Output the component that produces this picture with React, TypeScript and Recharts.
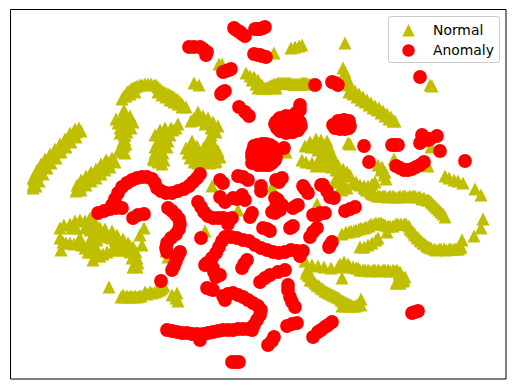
import React from 'react';
import { ScatterChart, Scatter, XAxis, YAxis, ReferenceArea, Legend } from 'recharts';

type Pt = [number, number];

// axis units run the same way as the picture (y grows downwards), there are no ticks to read
const xDomain: [number, number] = [10.5, 506];
const yDomain: [number, number] = [9.5, 379];

const normalTopArc: Pt[] = [[124,96],[127,92],[131,89],[135,87],[140,85],[145,84],[151,84],[156,85],[160,89],[164,92],[168,94],[172,96],[176,99],[180,102],[183,106],[186,107],[129,91],[133,88],[137,86],[142,85],[148,84],[154,85],[158,87],[162,91],[166,93],[170,95],[174,97],[178,100],[182,104],[122,99],[126,96],[130,94],[135,92],[158,92],[162,95],[166,97],[170,100],[174,102],[178,104],[182,107]];
const normalTopBits: Pt[] = [[194,83],[199,85],[219,64],[222,64],[274,53],[291,48],[295,47],[299,46],[302,45],[345,43],[430,85],[432,86]];
const normalTopBand: Pt[] = [[246,73],[250,76],[254,77],[258,80],[262,85],[258,88],[262,88],[266,88],[270,86],[274,84],[278,83],[282,83],[286,83],[290,83],[294,84],[298,84],[302,83],[306,83],[310,84],[252,80],[256,84],[260,87],[264,88],[268,87],[272,88],[276,88],[272,85],[276,84],[280,83],[284,83],[288,83],[292,84],[296,84],[300,84],[304,83],[308,84]];
const normalSlant: Pt[] = [[343,68],[345,72],[346,76],[348,80],[349,85],[349,92],[351,88],[353,94],[355,91],[357,97],[359,94],[361,100],[363,97],[365,102],[367,100],[369,105],[371,103],[373,108],[375,106],[377,110],[379,108],[381,113],[383,111],[385,116],[387,114],[389,119],[391,117],[393,121],[395,121]];
const normalCentreRight: Pt[] = [[348,143],[350,144],[305,146],[310,142],[316,139],[321,140],[327,141],[329,147],[331,152],[333,157],[335,162],[318,150],[322,146],[302,160],[306,162],[312,163],[316,166],[320,164],[338,165],[343,169],[347,172],[340,175],[335,180],[340,188],[347,188],[342,190],[311,147],[315,147],[320,157],[325,152],[326,158],[330,162],[326,166],[331,167],[336,170],[345,176],[350,175],[338,182],[343,184],[352,184],[356,182]];
const normalMidBand: Pt[] = [[378,165],[381,170],[384,175],[386,179],[360,185],[364,186],[368,186],[372,184],[375,182],[367,190],[371,193],[375,195],[380,196],[385,196],[390,196],[395,197],[400,196],[405,196],[410,196],[415,196],[420,197],[424,198],[429,200],[433,204],[437,208],[441,212],[445,217],[378,196],[383,196],[388,197],[393,196],[398,197],[403,196],[408,197],[413,196],[418,197],[370,191],[373,194],[366,189],[422,199],[427,200],[431,202],[435,206],[439,210],[443,214],[364,188],[382,167],[385,172]];
const normalLowBand: Pt[] = [[342,234],[346,232],[351,231],[356,230],[361,228],[366,227],[371,224],[376,223],[381,223],[385,225],[390,226],[387,232],[396,224],[401,224],[406,224],[409,226],[412,231],[415,235],[418,238],[421,241],[425,244],[429,247],[434,249],[439,249],[444,249],[449,249],[454,249],[458,249],[461,247],[462,240],[349,232],[354,231],[359,229],[364,228],[369,226],[374,224],[379,223],[383,224],[388,226],[393,226],[398,224],[404,224],[410,229],[414,233],[417,237],[420,240],[423,243],[427,246],[431,248],[436,250],[441,249],[446,250],[451,249],[456,249],[460,248]];
const normalLowInner: Pt[] = [[360,247],[364,247],[368,245],[372,243],[376,240],[378,238]];
const normalRightEdge: Pt[] = [[445,176],[449,178],[454,180],[458,181],[463,183],[475,189],[481,195],[483,219],[481,228],[474,236]];
const normalBehindRed: Pt[] = [[394,159],[396,164],[420,163],[424,165],[428,166],[431,147],[272,187],[238,210],[317,204],[212,186],[205,231],[286,152]];
const normalBottomBand: Pt[] = [[305,261],[312,265],[318,266],[324,267],[331,268],[342,278],[340,264],[344,262],[348,264],[353,267],[358,268],[363,270],[368,270],[373,270],[378,270],[383,270],[388,270],[393,270],[397,270],[400,272],[402,276],[404,280],[396,283],[400,283],[403,281],[405,277],[350,267],[356,268],[360,270],[365,270],[370,271],[375,270],[380,271],[385,270],[390,271],[395,271],[399,274],[401,279],[398,283],[344,265],[338,267]];
const normalBottomSlant: Pt[] = [[307,270],[308,275],[311,279],[315,283],[319,286],[323,289],[327,292],[331,294],[335,296],[339,298],[343,301],[347,303],[351,305],[355,306],[342,306],[346,306],[350,306],[361,299],[361,305],[309,272],[310,276],[313,281],[317,285],[321,288],[325,291],[329,293],[333,295],[337,297],[341,300],[345,302],[349,304],[353,306],[357,305],[310,280],[306,273]];
const normalLeftBandA: Pt[] = [[79,128],[76,132],[72,136],[68,140],[64,144],[60,148],[56,152],[52,156],[48,160],[44,165],[40,170],[37,175],[34,180],[33,185],[33,188],[81,131],[76,137],[71,142],[66,147],[61,152],[56,158],[51,163],[47,168],[43,174],[39,181],[36,186],[75,129],[70,133],[65,139],[60,144],[55,149],[50,154],[45,159],[41,164],[37,170],[33,178]];
const normalLeftBandB: Pt[] = [[112,158],[108,162],[104,165],[100,169],[96,173],[92,176],[88,180],[84,183],[80,187],[76,191],[115,162],[110,167],[105,170],[101,174],[96,178],[91,181],[86,185],[81,190],[106,160],[101,164],[96,169],[91,172],[86,176],[81,180],[77,185]];
const normalUpperLeft: Pt[] = [[124,110],[116,119],[130,116],[133,122],[128,125],[122,125],[124,130],[120,128],[124,135],[125,140],[124,146],[122,152],[118,123],[126,116],[122,117],[128,120],[131,128],[127,132],[121,122],[126,144],[122,146],[125,135],[120,133],[123,141],[119,150],[125,153]];
const normalUpperMid: Pt[] = [[155,135],[160,130],[165,128],[171,128],[178,124],[165,135],[168,141],[158,141],[155,147],[155,153],[153,159],[158,162],[162,164],[164,160],[160,137],[163,141],[170,135],[173,130],[176,128],[158,150],[160,148],[155,160],[163,153],[167,147]];
const normalUpperRight: Pt[] = [[191,121],[198,112],[203,116],[208,118],[213,122],[218,126],[198,120],[205,124],[211,128],[211,135],[212,142],[213,150],[214,156],[216,161],[220,157],[215,162],[210,163],[205,162],[192,141],[186,148],[191,148],[197,146],[199,152],[195,155],[190,158],[194,162],[198,163],[202,160],[194,118],[214,126],[216,132],[209,139],[215,147],[207,150],[203,155],[209,157],[218,151],[188,153],[192,152],[196,160],[200,157],[204,147],[216,157]];
const normalLowerLeft: Pt[] = [[60,228],[64,225],[70,224],[75,221],[80,220],[85,221],[90,218],[95,222],[100,228],[105,229],[112,231],[117,235],[123,239],[128,243],[60,238],[63,242],[61,250],[78,242],[80,238],[90,230],[93,235],[90,240],[95,245],[98,252],[100,256],[95,256],[92,250],[85,248],[115,245],[120,245],[125,245],[130,246],[133,247],[136,252],[137,258],[135,263],[133,267],[137,267],[140,235],[144,228],[142,245],[166,251],[168,257],[72,228],[85,228],[95,232],[100,235],[105,236],[97,240],[112,238],[118,240],[124,243],[130,252],[132,258],[138,263],[90,225],[88,252],[93,260],[66,243],[70,243],[74,244],[82,245],[87,247],[90,252],[103,254],[107,252],[112,250],[118,250],[124,250],[128,250],[115,240],[121,247],[108,237],[104,232],[97,236],[93,228],[76,228]];
const normalBottomLeft: Pt[] = [[109,287],[121,297],[125,297],[129,297],[133,297],[137,297],[141,296],[145,292],[150,292],[155,292],[160,290],[164,286],[172,295],[177,293],[176,298],[178,301],[123,295],[127,296],[131,296],[135,296],[139,296],[147,294],[152,293],[157,291],[162,288]];

const anomalyTop: Pt[] = [[234,28],[238,31],[242,34],[245,36],[235,29],[240,32],[255,29],[257,29],[260,29],[263,28],[265,27],[189,47],[194,47],[200,47],[203,49],[207,52],[206,55],[254,54],[258,55],[260,55],[262,56],[266,57],[223,72],[226,71],[229,70],[231,69],[221,94],[222,93],[223,92],[225,91],[239,107],[245,112],[249,116],[315,85],[332,82],[335,83],[338,85],[420,77]];
const anomalyBigBlob: Pt[] = [[276,122],[280,118],[286,116],[292,116],[297,118],[300,124],[298,130],[292,132],[286,133],[280,131],[277,127],[288,124],[284,122],[292,123],[300,105],[300,110],[296,113],[275,124],[279,119],[285,117],[291,117],[296,118],[300,122],[301,126],[298,130],[293,132],[287,132],[281,131],[277,128],[295,125],[282,127],[290,128]];
const anomalyMidBlob: Pt[] = [[254,146],[262,144],[270,145],[275,150],[276,157],[272,163],[266,165],[258,165],[253,160],[252,153],[260,152],[266,154],[252,163],[284,148],[257,145],[266,144],[273,147],[276,153],[275,160],[269,165],[262,165],[256,163],[252,157],[253,150],[264,160],[270,155],[258,158],[262,148],[270,150]];
const anomalyRightBlob: Pt[] = [[333,125],[338,121],[344,120],[349,121],[350,126],[345,129],[338,128],[342,125],[336,124],[347,125],[340,129],[349,128],[335,128],[341,121]];
const anomalyRightBits: Pt[] = [[364,146],[392,145],[395,145],[398,145],[422,135],[437,136],[420,143],[428,140],[430,139],[425,138],[440,151],[465,161],[369,162]];
const anomalySmile: Pt[] = [[396,166],[400,168],[404,170],[408,170],[412,169],[416,167],[420,165],[424,162]];
const anomalyLongArc: Pt[] = [[98,213],[104,211],[110,209],[116,208],[122,208],[112,205],[115,199],[118,193],[122,187],[127,183],[132,180],[137,178],[142,177],[147,177],[152,179],[155,183],[157,188],[161,191],[166,193],[172,193],[178,191],[184,189],[189,186],[193,182],[197,178],[200,174]];
const anomalyPair: Pt[] = [[133,218],[138,215],[144,214]];
const anomalyLeftS: Pt[] = [[168,208],[172,211],[176,215],[179,219],[180,224],[179,229],[176,234],[171,238],[167,243],[166,248],[167,252]];
const anomalyLeftSlant: Pt[] = [[180,252],[178,256],[176,261],[174,266],[172,270],[161,281]];
const anomalyCentre: Pt[] = [[220,180],[223,183],[238,176],[243,177],[248,180],[261,186],[261,191],[276,180],[279,182],[282,178],[303,186],[305,189],[308,193],[321,185],[323,185],[327,191],[330,197],[334,198],[252,213],[250,217],[201,238],[263,228],[267,229],[270,231],[290,228],[292,227],[293,226],[310,237],[313,232],[317,228],[329,247],[330,245],[332,242]];
const anomalyCentreRow: Pt[] = [[220,197],[225,202],[233,198],[237,199],[242,195],[245,200],[275,198],[278,200],[282,205],[276,207],[280,210],[272,212],[275,213],[293,208],[296,206],[298,205],[313,215],[318,215],[320,213],[325,213],[345,211],[350,209],[355,207]];
const anomalyHook: Pt[] = [[198,202],[201,207],[204,212],[208,216],[213,218],[218,218],[223,218],[228,219],[232,218],[228,224]];
const anomalyWideArc: Pt[] = [[225,237],[231,237],[237,238],[243,240],[249,241],[255,245],[261,248],[267,250],[273,252],[279,253],[285,252],[291,250],[297,251],[303,251],[300,256],[222,241],[219,247],[216,253],[212,258],[207,263],[205,265],[213,268],[214,272],[216,277],[220,275]];
const anomalySmallSlants: Pt[] = [[247,260],[244,264],[242,268],[260,282],[265,278],[270,275],[278,272],[285,270],[288,285],[288,290],[290,297],[292,302],[295,307],[207,288],[210,289],[213,290]];
const anomalyBottomS: Pt[] = [[223,296],[225,300],[228,294],[233,293],[238,295],[243,297],[248,300],[253,303],[258,306],[261,310],[260,315],[257,320],[254,325],[252,330],[248,329],[243,329],[238,329],[233,330],[228,330],[223,330],[218,331],[213,332],[208,333],[203,334],[200,340],[197,334],[192,334],[187,333],[182,333],[177,332],[172,331],[167,330]];
const anomalyBottom: Pt[] = [[232,362],[235,362],[239,362],[268,345],[272,341],[274,337],[287,326],[292,324],[297,323],[332,322],[328,325],[325,327],[321,330],[318,332],[313,337],[412,313],[415,312],[418,311]];

const normalGroups = [normalTopArc, normalTopBits, normalTopBand, normalSlant, normalCentreRight, normalMidBand, normalLowBand, normalLowInner, normalRightEdge, normalBehindRed, normalBottomBand, normalBottomSlant, normalLeftBandA, normalLeftBandB, normalUpperLeft, normalUpperMid, normalUpperRight, normalLowerLeft, normalBottomLeft];
const anomalyGroups = [anomalyTop, anomalyBigBlob, anomalyMidBlob, anomalyRightBlob, anomalyRightBits, anomalySmile, anomalyLongArc, anomalyPair, anomalyLeftS, anomalyLeftSlant, anomalyCentre, anomalyCentreRow, anomalyHook, anomalyWideArc, anomalySmallSlants, anomalyBottomS, anomalyBottom];

const toRows = (groups: Pt[][]) => groups.flat().map(([x, y]) => ({ x, y }));
const normalData = toRows(normalGroups);
const anomalyData = toRows(anomalyGroups);

const OLIVE = '#bfbf00';
const RED = '#ff0000';
const MARK = 6.5;

const Triangle = ({ cx, cy }: { cx?: number; cy?: number }) => (
  <path d={`M${cx},${cy! - MARK}L${cx! - MARK},${cy! + MARK}L${cx! + MARK},${cy! + MARK}Z`} fill={OLIVE} />
);

const Dot = ({ cx, cy }: { cx?: number; cy?: number }) => <circle cx={cx} cy={cy} r={6.9} fill={RED} />;

const LegendBox = () => (
  <div style={{ position: 'absolute', left: 388, top: 16, width: 110, height: 45, background: 'rgba(255,255,255,0.8)', border: '1px solid #cccccc', borderRadius: 3, fontFamily: 'DejaVu Sans', fontSize: 13.9, color: '#000', lineHeight: '20px' }}>
    <svg width={30} height={45} style={{ position: 'absolute', left: 6, top: 0 }}>
      <path d="M13.5,7L7.3,19.4L19.7,19.4Z" fill={OLIVE} />
      <circle cx={13.5} cy={33.5} r={6.2} fill={RED} />
    </svg>
    <div style={{ position: 'absolute', left: 44, top: 3 }}>Normal</div>
    <div style={{ position: 'absolute', left: 44, top: 23 }}>Anomaly</div>
  </div>
);

export default function App() {
  return (
    <div style={{ position: 'absolute', left: 0, top: 0, width: 515, height: 389, background: '#fff' }}>
      <ScatterChart width={515} height={389} margin={{ top: 9.5, right: 9, bottom: 10, left: 10.5 }}>
        <XAxis type="number" dataKey="x" domain={xDomain} hide allowDataOverflow />
        <YAxis type="number" dataKey="y" domain={yDomain} reversed hide allowDataOverflow />
        <ReferenceArea x1={xDomain[0]} x2={xDomain[1]} y1={yDomain[0]} y2={yDomain[1]} fill="none" stroke="#000" strokeWidth={1} fillOpacity={0} />
        <Scatter name="Normal" data={normalData} shape={Triangle as any} isAnimationActive={false} />
        <Scatter name="Anomaly" data={anomalyData} shape={Dot as any} isAnimationActive={false} />
        <Legend content={() => <LegendBox />} wrapperStyle={{ position: 'absolute', left: 0, top: 0, width: 0, height: 0 }} />
      </ScatterChart>
    </div>
  );
}
